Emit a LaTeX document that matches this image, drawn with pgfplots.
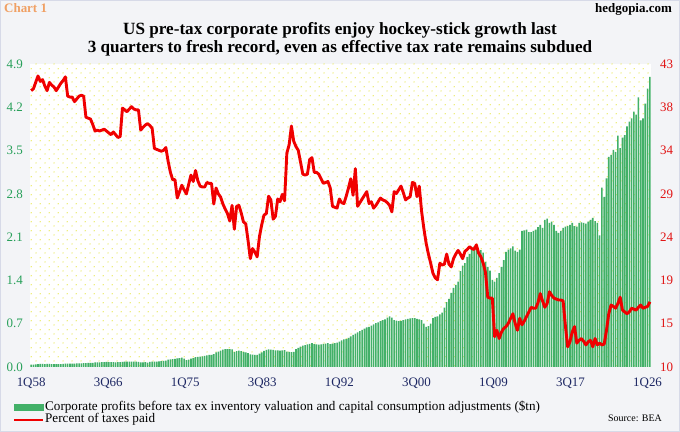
\documentclass[border=0pt]{standalone}
\usepackage{fontspec}
\setmainfont{Liberation Serif}
\usepackage{pgfplots}
\usepackage{pgfplotstable}
\pgfplotsset{compat=1.18}
\usetikzlibrary{patterns}
\definecolor{bgc}{RGB}{243,244,247}
\definecolor{framec}{RGB}{215,218,232}
\definecolor{barg}{RGB}{66,176,104}
\definecolor{lineRed}{RGB}{240,0,0}
\definecolor{leftg}{RGB}{40,160,90}
\definecolor{rightr}{RGB}{225,20,20}
\definecolor{navyc}{RGB}{30,40,100}
\definecolor{orangec}{RGB}{240,160,100}
\definecolor{dotc}{RGB}{232,232,80}
\pgfdeclarepatternformonly{ydots}{\pgfqpoint{0pt}{0pt}}{\pgfqpoint{8.6bp}{8.6bp}}{\pgfqpoint{8.6bp}{8.6bp}}{%
  \pgfpathcircle{\pgfqpoint{2.15bp}{2.15bp}}{0.7bp}\pgfusepath{fill}%
  \pgfpathcircle{\pgfqpoint{6.45bp}{6.45bp}}{0.7bp}\pgfusepath{fill}}

\pgfplotstableread[row sep=\\]{
i b t\\
0 0.038 40.1\\ 1 0.040 40.3\\ 2 0.043 41.0\\ 3 0.045 41.7\\
4 0.050 41.1\\ 5 0.052 41.3\\ 6 0.048 40.6\\ 7 0.049 40.1\\
8 0.050 41.0\\ 9 0.048 40.7\\ 10 0.047 40.5\\ 11 0.046 40.1\\
12 0.045 40.5\\ 13 0.048 40.9\\ 14 0.051 41.2\\ 15 0.053 41.6\\
16 0.053 39.5\\ 17 0.054 39.4\\ 18 0.055 39.4\\ 19 0.056 38.9\\
20 0.057 39.2\\ 21 0.058 39.5\\ 22 0.060 39.6\\ 23 0.062 39.5\\
24 0.064 37.2\\ 25 0.065 37.1\\ 26 0.066 37.0\\ 27 0.067 36.4\\
28 0.073 35.7\\ 29 0.075 35.8\\ 30 0.076 35.7\\ 31 0.078 35.8\\
32 0.080 35.9\\ 33 0.081 35.7\\ 34 0.080 35.5\\ 35 0.079 35.3\\
36 0.077 35.6\\ 37 0.076 35.3\\ 38 0.078 35.0\\ 39 0.080 35.1\\
40 0.083 38.2\\ 41 0.085 38.0\\ 42 0.086 37.8\\ 43 0.087 38.1\\
44 0.088 38.35\\ 45 0.088 38.1\\ 46 0.085 38.0\\ 47 0.082 38.0\\
48 0.076 35.8\\ 49 0.076 36.1\\ 50 0.077 36.35\\ 51 0.072 36.5\\
52 0.082 36.3\\ 53 0.085 36.0\\ 54 0.086 33.8\\ 55 0.087 33.7\\
56 0.092 33.6\\ 57 0.095 33.5\\ 58 0.098 33.6\\ 59 0.105 33.9\\
60 0.118 32.4\\ 61 0.124 31.2\\ 62 0.128 30.4\\ 63 0.130 30.4\\
64 0.138 28.4\\ 65 0.145 29.1\\ 66 0.150 29.8\\ 67 0.135 29.3\\
68 0.112 28.85\\ 69 0.118 29.9\\ 70 0.135 30.9\\ 71 0.145 30.2\\
72 0.160 31.4\\ 73 0.165 30.3\\ 74 0.168 29.7\\ 75 0.170 29.6\\
76 0.178 29.6\\ 77 0.190 30.1\\ 78 0.195 30.0\\ 79 0.198 30.0\\
80 0.210 27.75\\ 81 0.235 29.5\\ 82 0.250 28.85\\ 83 0.265 28.5\\
84 0.280 27.75\\ 85 0.288 27.2\\ 86 0.290 26.7\\ 87 0.290 25.9\\
88 0.285 27.6\\ 89 0.240 25.0\\ 90 0.255 27.5\\ 91 0.265 27.6\\
92 0.255 26.8\\ 93 0.245 25.8\\ 94 0.238 25.6\\ 95 0.225 23.8\\
96 0.205 21.8\\ 97 0.200 22.9\\ 98 0.198 22.5\\ 99 0.196 22.0\\
100 0.215 24.2\\ 101 0.235 25.5\\ 102 0.260 26.55\\ 103 0.275 26.7\\
104 0.285 28.6\\ 105 0.280 28.2\\ 106 0.275 26.1\\ 107 0.270 26.4\\
108 0.268 28.3\\ 109 0.265 28.0\\ 110 0.270 28.8\\ 111 0.272 28.1\\
112 0.250 33.3\\ 113 0.245 34.2\\ 114 0.240 36.25\\ 115 0.245 34.6\\
116 0.290 34.0\\ 117 0.310 33.6\\ 118 0.330 32.3\\ 119 0.345 31.0\\
120 0.355 30.9\\ 121 0.365 31.0\\ 122 0.375 32.6\\ 123 0.385 32.8\\
124 0.370 31.2\\ 125 0.365 31.2\\ 126 0.360 31.0\\ 127 0.365 30.5\\
128 0.375 30.0\\ 129 0.380 30.1\\ 130 0.385 30.2\\ 131 0.370 29.5\\
132 0.380 27.5\\ 133 0.385 27.4\\ 134 0.395 27.3\\ 135 0.410 28.3\\
136 0.430 27.9\\ 137 0.445 27.8\\ 138 0.450 28.6\\ 139 0.470 29.5\\
140 0.495 30.5\\ 141 0.520 28.7\\ 142 0.540 31.6\\ 143 0.560 27.5\\
144 0.580 27.9\\ 145 0.600 28.3\\ 146 0.620 28.7\\ 147 0.640 29.1\\
148 0.650 27.8\\ 149 0.670 28.0\\ 150 0.690 27.3\\ 151 0.710 27.6\\
152 0.720 28.0\\ 153 0.740 28.4\\ 154 0.760 28.2\\ 155 0.770 28.1\\
156 0.800 27.9\\ 157 0.820 27.6\\ 158 0.800 26.9\\ 159 0.760 29.1\\
160 0.750 28.9\\ 161 0.740 29.3\\ 162 0.745 29.7\\ 163 0.760 29.0\\
164 0.770 28.2\\ 165 0.780 28.4\\ 166 0.785 28.55\\ 167 0.790 30.1\\
168 0.790 30.0\\ 169 0.780 28.55\\ 170 0.770 29.7\\ 171 0.760 27.0\\
172 0.700 25.1\\ 173 0.650 23.5\\ 174 0.660 22.3\\ 175 0.700 21.3\\
176 0.790 20.2\\ 177 0.810 19.7\\ 178 0.820 19.5\\ 179 0.850 21.3\\
180 0.880 21.1\\ 181 0.960 21.2\\ 182 1.050 22.3\\ 183 1.100 21.2\\
184 1.200 20.9\\ 185 1.280 21.8\\ 186 1.330 22.3\\ 187 1.380 22.7\\
188 1.550 22.3\\ 189 1.640 21.8\\ 190 1.680 22.6\\ 191 1.780 22.8\\
192 1.830 23.1\\ 193 1.900 22.9\\ 194 1.950 22.8\\ 195 1.920 23.3\\
196 1.880 22.4\\ 197 1.890 22.0\\ 198 1.850 21.3\\ 199 1.700 20.3\\
200 1.620 17.6\\ 201 1.560 17.5\\ 202 1.410 17.5\\ 203 1.380 13.3\\
204 1.440 14.0\\ 205 1.520 13.1\\ 206 1.620 13.8\\ 207 1.730 14.2\\
208 1.860 14.4\\ 209 1.900 14.75\\ 210 1.920 15.3\\ 211 1.950 15.8\\
212 1.880 14.75\\ 213 1.860 14.0\\ 214 1.900 15.3\\ 215 2.200 14.6\\
216 2.210 15.0\\ 217 2.220 15.5\\ 218 2.180 16.0\\ 219 2.180 16.5\\
220 2.200 16.4\\ 221 2.220 16.4\\ 222 2.260 17.0\\ 223 2.300 18.0\\
224 2.250 17.2\\ 225 2.380 16.5\\ 226 2.400 16.9\\ 227 2.330 18.2\\
228 2.350 17.8\\ 229 2.300 17.5\\ 230 2.200 17.4\\ 231 2.170 17.3\\
232 2.200 17.3\\ 233 2.250 17.2\\ 234 2.270 14.5\\ 235 2.280 12.2\\
236 2.300 12.75\\ 237 2.330 13.8\\ 238 2.280 14.4\\ 239 2.270 12.6\\
240 2.330 12.9\\ 241 2.340 13.1\\ 242 2.330 12.8\\ 243 2.320 12.4\\
244 2.350 12.75\\ 245 2.380 12.9\\ 246 2.410 12.2\\ 247 2.360 13.1\\
248 2.330 12.4\\ 249 2.130 12.6\\ 250 2.900 12.4\\ 251 2.750 12.5\\
252 3.050 14.0\\ 253 3.400 15.8\\ 254 3.430 16.75\\ 255 3.510 16.6\\
256 3.480 16.4\\ 257 3.740 16.9\\ 258 3.540 17.6\\ 259 3.710 16.2\\
260 3.750 16.0\\ 261 3.890 15.8\\ 262 3.970 16.0\\ 263 4.020 16.4\\
264 4.130 16.3\\ 265 4.080 16.2\\ 266 4.360 16.5\\ 267 3.990 16.75\\
268 4.020 16.4\\ 269 4.260 16.5\\ 270 4.500 16.6\\ 271 4.690 17.1\\
}\data

\begin{document}
\begin{tikzpicture}
\path[use as bounding box, fill=bgc] (0,0) rectangle (680bp,432bp);
\draw[framec, line width=1bp] (0.5bp,0.5bp) rectangle (679.5bp,431.5bp);

\begin{axis}[
  at={(30bp,65bp)}, anchor=south west, scale only axis,
  width=621bp, height=303bp,
  xmin=-0.5, xmax=271.5, ymin=0, ymax=4.9,
  axis line style={draw=none}, major tick length=0pt,
  xtick={0,33.75,67.5,101.25,135,168.75,202.5,236.25,270},
  xticklabels={1Q58,3Q66,1Q75,3Q83,1Q92,3Q00,1Q09,3Q17,1Q26},
  ytick={0,0.7,1.4,2.1,2.8,3.5,4.2,4.9},
  yticklabels={0.0,0.7,1.4,2.1,2.8,3.5,4.2,4.9},
  x tick label style={font=\fontsize{13}{14}\selectfont, text=navyc, yshift=-10.5bp, inner sep=0pt, text height=9bp, text depth=2.5bp},
  y tick label style={font=\fontsize{13}{14}\selectfont, text=leftg, inner sep=0pt, text height=9bp, text depth=0.5bp, xshift=-7bp},
  axis background/.style={preaction={fill=white}, pattern=ydots, pattern color=dotc},
]
\addplot[ybar, bar width=1.6bp, fill=barg, draw=none] table[x=i,y=b]{\data};
\end{axis}

\begin{axis}[
  at={(30bp,65bp)}, anchor=south west, scale only axis,
  width=621bp, height=303bp,
  xmin=-0.5, xmax=271.5, ymin=10, ymax=43,
  axis x line=none, axis y line*=right,
  axis line style={draw=none}, major tick length=0pt,
  ytick={10,14.714,19.429,24.143,28.857,33.571,38.286,43},
  yticklabels={10,15,19,24,29,34,38,43},
  y tick label style={font=\fontsize{13}{14}\selectfont, text=rightr, xshift=9bp, inner sep=0pt, text height=9bp, text depth=0.5bp},
  legend style={at={(-0.0274,-0.112)}, anchor=north west, draw=none, fill=none,
    font=\fontsize{13.2}{14}\selectfont, inner sep=0pt, row sep=0.5bp,
    nodes={inner xsep=1bp, inner ysep=0.25bp, text height=9bp, text depth=2.5bp}},
  legend cell align=left,
]
\addlegendimage{legend image code/.code={\fill[barg] (0bp,-3bp) rectangle (29bp,3bp);}}
\addlegendentry{Corporate profits before tax ex inventory valuation and capital consumption adjustments (\$tn)}
\addplot[lineRed, line width=2.9bp, line join=round,
  legend image code/.code={\draw[lineRed, line width=2bp] (0bp,0bp) -- (29bp,0bp);}]
  table[x=i,y=t]{\data};
\addlegendentry{Percent of taxes paid}
\end{axis}

\node[anchor=base, inner sep=0pt, font=\bfseries\fontsize{17.2}{18}\selectfont] at (340bp,397bp) {US pre-tax corporate profits enjoy hockey-stick growth last};
\node[anchor=base, inner sep=0pt, font=\bfseries\fontsize{17.2}{18}\selectfont] at (340bp,379bp) {3 quarters to fresh record, even as effective tax rate remains subdued};
\node[anchor=base west, inner sep=0pt, font=\bfseries\fontsize{13}{14}\selectfont, text=orangec] at (4bp,419bp) {Chart 1};
\node[anchor=base east, inner sep=0pt, font=\bfseries\fontsize{13}{14}\selectfont] at (672bp,419bp) {hedgopia.com};
\node[anchor=base east, inner sep=0pt, font=\fontsize{10}{12}\selectfont] at (662bp,11bp) {Source: BEA};
\end{tikzpicture}
\end{document}
